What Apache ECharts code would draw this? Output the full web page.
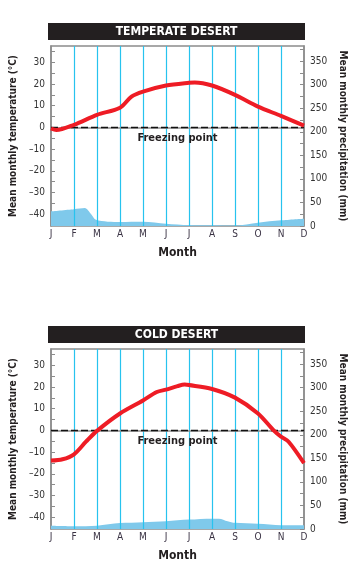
<!DOCTYPE html>
<html><head><meta charset="utf-8">
<script src="https://cdn.jsdelivr.net/npm/echarts@6/dist/echarts.min.js"></script>
<style>html,body{margin:0;padding:0;background:#fff}#c{width:359px;height:581px}</style>
</head><body><div id="c"></div>
<script>
const months = ['J','F','M','A','M','J','J','A','S','O','N','D'];
const tempLabels = [-40,-30,-20,-10,0,10,20,30];
const tempTicks = [-40,-35,-30,-25,-20,-15,-10,-5,0,5,10,15,20,25,30,35];
const precipLabels = [0,50,100,150,200,250,300,350];
const precipTicks = [0,25,50,75,100,125,150,175,200,225,250,275,300,325,350,375];
const titles = ['TEMPERATE DESERT','COLD DESERT'];
// [month index (0 = Jan), value]
const temperateTemp = [[0,-0.5],[0.23,-1.2],[1,1.2],[2,5.8],[3,9.1],[3.5,14.2],[4,16.5],[5,19.3],[6,20.6],[6.25,20.7],[7,19.3],[8,15],[9,9.6],[10,5.3],[11,0.8]];
const temperatePrecip = [[0,31],[1,35.5],[1.47,38],[1.73,26],[1.95,13.5],[3,8.5],[4,9],[5,5],[6,2],[7,1.5],[8,1],[9,7],[10,12],[11,15.5]];
const coldTemp = [[0,-13.9],[0.5,-13.3],[1,-11],[1.52,-5.2],[2,-0.2],[3,7.8],[4,13.8],[4.6,17.7],[5,18.8],[5.5,20.4],[5.81,21.1],[6,20.9],[7,19.1],[8,15.1],[9,7.8],[9.68,0],[10,-2.9],[10.33,-5.2],[11,-15.1]];
const coldPrecip = [[0,7],[1,6],[2,7],[3,12.5],[4,14.5],[5,16.5],[6,20],[7,22],[7.3,22],[7.68,16.5],[8,13],[9,11],[10,8],[11,8]];
const freezingPoint = 0;

const FONT = '"DejaVu Sans Condensed", "Liberation Sans Narrow", "Open Sans", sans-serif';
const DARK = '#231f20';
const GRID_TOPS = [46, 349];
const GRID_LEFT = 48, GRID_W = 256, GRID_H = 180;
const tempSeries = [temperateTemp, coldTemp];
const precipSeries = [temperatePrecip, coldPrecip];

const chart = echarts.init(document.getElementById('c'));
const grid = [], xAxis = [], yAxis = [], series = [], graphic = [];
const dash = v => String(v).replace('-', '\u2013');

for (let i = 0; i < 2; i++) {
  grid.push({left: GRID_LEFT, top: GRID_TOPS[i], width: GRID_W, height: GRID_H,
    show: true, borderColor: '#8c8c8c', borderWidth: 1.5, backgroundColor: '#fff'});
  xAxis.push({type: 'value', gridIndex: i, min: 0, max: 11, interval: 1, z: 1.5,
    name: 'Month', nameLocation: 'middle', nameGap: 21,
    nameTextStyle: {fontFamily: FONT, fontWeight: 'bold', fontSize: 12, color: DARK},
    axisLine: {show: true, lineStyle: {color: '#8c8c8c', width: 1.5}},
    axisTick: {show: false},
    axisLabel: {margin: 3, fontFamily: FONT, fontSize: 10, color: '#3a3344', formatter: v => months[v]},
    splitLine: {show: true, showMinLine: false, showMaxLine: false, lineStyle: {color: '#27c3ee', width: 1.2}}
  });
  yAxis.push({type: 'value', gridIndex: i, position: 'left', min: -45.4, max: 37.5,
    name: 'Mean monthly temperature (\u00b0C)', nameLocation: 'middle', nameGap: 33, nameRotate: 90,
    nameTextStyle: {fontFamily: FONT, fontWeight: 'bold', fontSize: 10, color: DARK},
    axisLine: {show: true, lineStyle: {color: '#8c8c8c', width: 1.5}},
    axisTick: {show: true, inside: true, length: 4, customValues: tempTicks, lineStyle: {color: '#8c8c8c'}},
    axisLabel: {margin: 6, fontFamily: FONT, fontSize: 10, color: '#333', customValues: tempLabels, formatter: dash},
    splitLine: {show: false}
  });
  yAxis.push({type: 'value', gridIndex: i, position: 'right', min: 0, max: 382,
    name: 'Mean monthly precipitation (mm)', nameLocation: 'middle', nameGap: 32, nameRotate: -90,
    nameTextStyle: {fontFamily: FONT, fontWeight: 'bold', fontSize: 10, color: DARK},
    axisLine: {show: true, lineStyle: {color: '#8c8c8c', width: 1.5}},
    axisTick: {show: true, inside: true, length: 4, customValues: precipTicks, lineStyle: {color: '#8c8c8c'}},
    axisLabel: {margin: 6, fontFamily: FONT, fontSize: 10, color: '#333', customValues: precipLabels},
    splitLine: {show: false}
  });
  series.push({type: 'line', xAxisIndex: i, yAxisIndex: 2 * i + 1, data: precipSeries[i], z: 1,
    smooth: 0.3, symbol: 'none', lineStyle: {width: 0}, areaStyle: {color: '#7fc9eb', opacity: 1}, silent: true});
  series.push({type: 'line', xAxisIndex: i, yAxisIndex: 2 * i, data: tempSeries[i], z: 3,
    smooth: 0.3, symbol: 'none', lineStyle: {width: 4, color: '#ee1c25'}, silent: true,
    markLine: {silent: true, symbol: 'none', z: 2,
      lineStyle: {color: '#111', type: [7, 3], width: 1.3},
      label: {show: true, position: 'insideMiddleBottom', formatter: 'Freezing point', distance: 5,
        fontFamily: FONT, fontWeight: 'bold', fontSize: 11, color: DARK},
      data: [{yAxis: freezingPoint}]}
  });
  graphic.push({type: 'rect', x: GRID_LEFT, y: GRID_TOPS[i] - 23, shape: {width: 257, height: 17},
    style: {fill: DARK}});
  graphic.push({type: 'text', x: 176.5, y: GRID_TOPS[i] - 14.5,
    style: {text: titles[i], fill: '#fff', font: 'bold 12px ' + FONT,
      textAlign: 'center', textVerticalAlign: 'middle'}});
}

chart.setOption({animation: false, grid, xAxis, yAxis, series, graphic});
</script></body></html>
